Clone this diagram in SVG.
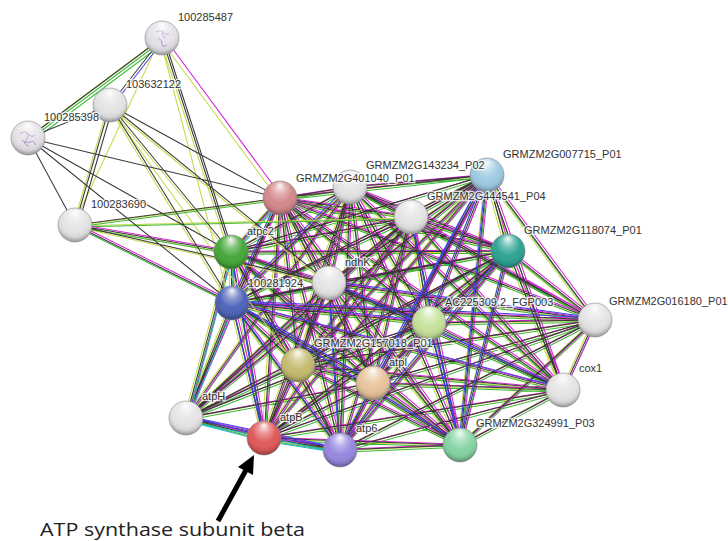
<svg xmlns="http://www.w3.org/2000/svg" xmlns:xlink="http://www.w3.org/1999/xlink" width="728" height="541" viewBox="0 0 728 541">
<style>
.lbl{font-family:"Liberation Sans",Arial,sans-serif;font-size:11px;fill:#333;stroke:#fff;stroke-width:2.5px;stroke-opacity:0.8;paint-order:stroke;}
.e{fill:none;stroke-width:1.05;}
.sh{fill:url(#hl);stroke:#8a8a8a;stroke-opacity:0.6;stroke-width:1;}
.sq{fill:none;stroke:#a47cc4;stroke-width:1;opacity:0.8;}
.cap{font-family:"Open Sans","Liberation Sans",sans-serif;font-size:18px;fill:#222;}
</style>
<defs>
<radialGradient id="hl" cx="0.5" cy="0.4" r="0.6" fx="0.5" fy="0.12">
<stop offset="0" stop-color="#fff" stop-opacity="0.95"/>
<stop offset="0.3" stop-color="#fff" stop-opacity="0.35"/>
<stop offset="0.6" stop-color="#fff" stop-opacity="0"/>
<stop offset="0.85" stop-color="#000" stop-opacity="0.08"/>
<stop offset="1" stop-color="#000" stop-opacity="0.35"/>
</radialGradient>
<path id="main" d="M280 198L350 187M280 198L487 175M280 198L411 217M280 198L508 251M280 198L595 320M280 198L231 252M280 198L329 283M280 198L232 303M280 198L429 323M280 198L298 365M280 198L373 383M280 198L186 418M280 198L264 438M280 198L340 450M280 198L563 390M280 198L460 445M350 187L487 175M350 187L411 217M350 187L508 251M350 187L595 320M350 187L231 252M350 187L329 283M350 187L232 303M350 187L429 323M350 187L298 365M350 187L373 383M350 187L186 418M350 187L264 438M350 187L340 450M350 187L563 390M350 187L460 445M487 175L411 217M487 175L508 251M487 175L595 320M487 175L231 252M487 175L329 283M487 175L232 303M487 175L429 323M487 175L298 365M487 175L373 383M487 175L186 418M487 175L264 438M487 175L340 450M487 175L563 390M487 175L460 445M411 217L508 251M411 217L595 320M411 217L231 252M411 217L329 283M411 217L232 303M411 217L429 323M411 217L298 365M411 217L373 383M411 217L186 418M411 217L264 438M411 217L340 450M411 217L563 390M411 217L460 445M508 251L595 320M508 251L231 252M508 251L329 283M508 251L232 303M508 251L429 323M508 251L298 365M508 251L373 383M508 251L186 418M508 251L264 438M508 251L340 450M508 251L563 390M508 251L460 445M595 320L329 283M595 320L232 303M595 320L429 323M595 320L298 365M595 320L373 383M595 320L264 438M595 320L340 450M595 320L563 390M595 320L460 445M231 252L329 283M231 252L232 303M231 252L429 323M231 252L298 365M231 252L373 383M231 252L186 418M231 252L264 438M231 252L340 450M231 252L460 445M329 283L232 303M329 283L429 323M329 283L298 365M329 283L373 383M329 283L186 418M329 283L264 438M329 283L340 450M329 283L563 390M329 283L460 445M232 303L429 323M232 303L298 365M232 303L373 383M232 303L186 418M232 303L264 438M232 303L340 450M232 303L563 390M232 303L460 445M429 323L298 365M429 323L373 383M429 323L186 418M429 323L264 438M429 323L340 450M429 323L563 390M429 323L460 445M298 365L373 383M298 365L186 418M298 365L264 438M298 365L340 450M298 365L563 390M298 365L460 445M373 383L186 418M373 383L264 438M373 383L340 450M373 383L563 390M373 383L460 445M186 418L264 438M186 418L340 450M264 438L340 450M264 438L563 390M264 438L460 445M340 450L563 390M340 450L460 445M563 390L460 445"/>
<path id="blu" d="M232 303L429 323M232 303L373 383M232 303L340 450M232 303L460 445M232 303L563 390M232 303L595 320M487 175L429 323M487 175L460 445M487 175L340 450M487 175L373 383M508 251L460 445M508 251L340 450M429 323L460 445M231 252L264 438M232 303L264 438M280 198L232 303M186 418L264 438M264 438L340 450M329 283L340 450M411 217L460 445M563 390L329 283M595 320L329 283M350 187L232 303M186 418L340 450"/>
<path id="cya" d="M186 418L264 438M264 438L340 450M186 418L340 450M231 252L186 418M232 303L186 418M231 252L232 303M280 198L231 252"/>
<path id="ulk" d="M162 38L110 105M162 38L28 138M162 38L231 252M164 38L233 252M110 105L28 138M110 105L75 225M113 106L78 226M110 105L280 198M110 105L231 252M110 105L232 303M110 105L329 283M28 138L75 225M28 138L280 198M28 138L231 252M28 138L232 303M75 225L280 198M75 225L231 252M75 225L232 303M75 225L329 283"/>
<path id="uly" d="M162 38L28 138M162 38L75 225M162 38L280 198M162 38L231 252M162 38L232 303M110 105L75 225M110 105L231 252M110 105L232 303M110 105L298 365M110 105L329 283M75 225L280 198M75 225L231 252M75 225L329 283M75 225L411 217"/>
<path id="ulg" d="M162 38L28 138M164 40L30 140M75 225L280 198M75 225L231 252M75 225L232 303M75 225L411 217"/>
<path id="ulm" d="M162 38L280 198M75 225L231 252M75 225L232 303"/>
</defs>
<rect width="728" height="541" fill="#fff"/>
<g id="connectors" class="e">
<use xlink:href="#main" stroke="#c6d94c" transform="translate(-2.2,0.8)"/>
<use xlink:href="#main" stroke="#3fb83a" transform="translate(0.8,2.2)"/>
<use xlink:href="#main" stroke="#dc22dc" transform="translate(2.2,-0.8)"/>
<use xlink:href="#main" stroke="#383838"/>
<use xlink:href="#blu" stroke="#4040e8" transform="translate(-0.9,-2.3)"/>
<use xlink:href="#cya" stroke="#22b8c8" transform="translate(1.6,3.2)"/>
<use xlink:href="#uly" stroke="#c6d94c" transform="translate(-2,1)"/>
<use xlink:href="#ulg" stroke="#3fb83a" transform="translate(1.2,2)"/>
<use xlink:href="#ulm" stroke="#dc22dc" transform="translate(2,-1)"/>
<use xlink:href="#ulk" stroke="#3a3a3a"/>
<path d="M162 38L110 105" stroke="#4040e0" transform="translate(2,1.5)"/>
</g>
<g id="n-100285487"><circle cx="162" cy="38" r="17" fill="#e4e2e6"/><path class="sq" d="M156 32q4-3 7 0t6 2M158 38q5 2 4 6t5 1M163 30q-2 5 2 8"/><circle class="sh" cx="162" cy="38" r="17"/><text class="lbl" x="178" y="21">100285487</text></g>
<g id="n-103632122"><circle cx="110" cy="105" r="17" fill="#e4e4e4"/><circle class="sh" cx="110" cy="105" r="17"/><text class="lbl" x="126" y="88">103632122</text></g>
<g id="n-100285398"><circle cx="28" cy="138" r="17" fill="#e4e2e6"/><path class="sq" d="M20 134q4-4 8 0t7 1M22 140q3 4 8 2t5 3M26 131q4 5 0 9t3 6"/><circle class="sh" cx="28" cy="138" r="17"/><text class="lbl" x="44" y="121">100285398</text></g>
<g id="n-100283690"><circle cx="75" cy="225" r="17" fill="#e4e4e4"/><circle class="sh" cx="75" cy="225" r="17"/><text class="lbl" x="91" y="208">100283690</text></g>
<g id="n-GRMZM2G007715_P01"><circle cx="487" cy="175" r="17" fill="#9fcbe2"/><circle class="sh" cx="487" cy="175" r="17"/><text class="lbl" x="503" y="158">GRMZM2G007715_P01</text></g>
<g id="n-GRMZM2G143234_P02"><circle cx="350" cy="187" r="17" fill="#e4e4e4"/><circle class="sh" cx="350" cy="187" r="17"/><text class="lbl" x="366" y="169">GRMZM2G143234_P02</text></g>
<g id="n-GRMZM2G401040_P01"><circle cx="280" cy="198" r="17" fill="#d4898c"/><circle class="sh" cx="280" cy="198" r="17"/><text class="lbl" x="296" y="182">GRMZM2G401040_P01</text></g>
<g id="n-GRMZM2G118074_P01"><circle cx="508" cy="251" r="17" fill="#2fa494"/><circle class="sh" cx="508" cy="251" r="17"/><text class="lbl" x="524" y="234">GRMZM2G118074_P01</text></g>
<g id="n-GRMZM2G444541_P04"><circle cx="411" cy="217" r="17" fill="#e4e4e4"/><circle class="sh" cx="411" cy="217" r="17"/><text class="lbl" x="427" y="200">GRMZM2G444541_P04</text></g>
<g id="n-GRMZM2G016180_P01"><circle cx="595" cy="320" r="17" fill="#e4e4e4"/><circle class="sh" cx="595" cy="320" r="17"/><text class="lbl" x="609" y="305">GRMZM2G016180_P01</text></g>
<g id="n-AC225309.2_FGP003"><circle cx="429" cy="323" r="17" fill="#c6e29c"/><circle class="sh" cx="429" cy="323" r="17"/><text class="lbl" x="445" y="306">AC225309.2_FGP003</text></g>
<g id="n-atpc2"><circle cx="231" cy="252" r="17" fill="#45a83a"/><circle class="sh" cx="231" cy="252" r="17"/><text class="lbl" x="247" y="235">atpc2</text></g>
<g id="n-ndhK"><circle cx="329" cy="283" r="17" fill="#e4e4e4"/><circle class="sh" cx="329" cy="283" r="17"/><text class="lbl" x="345" y="266">ndhK</text></g>
<g id="n-100281924"><circle cx="232" cy="303" r="17" fill="#4f64b8"/><circle class="sh" cx="232" cy="303" r="17"/><text class="lbl" x="248" y="287">100281924</text></g>
<g id="n-GRMZM2G157018_P01"><circle cx="298" cy="365" r="17" fill="#c4bc70"/><circle class="sh" cx="298" cy="365" r="17"/><text class="lbl" x="314" y="347">GRMZM2G157018_P01</text></g>
<g id="n-atpI"><circle cx="373" cy="383" r="17" fill="#e8c49a"/><circle class="sh" cx="373" cy="383" r="17"/><text class="lbl" x="389" y="366">atpI</text></g>
<g id="n-atpH"><circle cx="186" cy="418" r="17" fill="#e4e4e4"/><circle class="sh" cx="186" cy="418" r="17"/><text class="lbl" x="202" y="400">atpH</text></g>
<g id="n-atpB"><circle cx="264" cy="438" r="17" fill="#e05a5a"/><circle class="sh" cx="264" cy="438" r="17"/><text class="lbl" x="280" y="421">atpB</text></g>
<g id="n-atp6"><circle cx="340" cy="450" r="17" fill="#9688de"/><circle class="sh" cx="340" cy="450" r="17"/><text class="lbl" x="356" y="432">atp6</text></g>
<g id="n-cox1"><circle cx="563" cy="390" r="17" fill="#e4e4e4"/><circle class="sh" cx="563" cy="390" r="17"/><text class="lbl" x="579" y="372">cox1</text></g>
<g id="n-GRMZM2G324991_P03"><circle cx="460" cy="445" r="17" fill="#86d4a4"/><circle class="sh" cx="460" cy="445" r="17"/><text class="lbl" x="476" y="427">GRMZM2G324991_P03</text></g>
<g id="annotation">
<line x1="218" y1="521" x2="246" y2="470" stroke="#000" stroke-width="5"/>
<polygon points="254,455 253,475 238,467" fill="#000"/>
<text class="cap" x="40" y="536" textLength="265" lengthAdjust="spacingAndGlyphs">ATP synthase subunit beta</text>
</g>
</svg>
